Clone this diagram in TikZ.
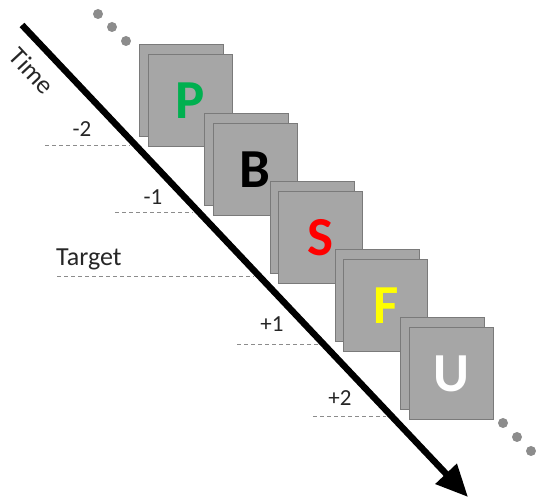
\documentclass[tikz,border=0pt]{standalone}
\usepackage{fontspec}
\setmainfont{Carlito}
\usetikzlibrary{arrows.meta}
\definecolor{cardfill}{HTML}{A6A6A6}
\definecolor{carddraw}{HTML}{7A7A7A}
\definecolor{dotgray}{HTML}{8C8C8C}
\definecolor{dashgray}{HTML}{8C8C8C}
\definecolor{txt}{HTML}{262626}
\definecolor{pgreen}{HTML}{00B050}
\definecolor{syellow}{HTML}{FFFF00}
\begin{document}
\begin{tikzpicture}[x=1pt,y=-1pt,
  card/.style={draw=carddraw,fill=cardfill,line width=1pt,minimum width=84pt,minimum height=92pt,inner sep=0pt,
    font=\fontsize{55}{55}\selectfont\bfseries},
  dotnode/.style={circle,fill=dotgray,minimum size=10pt,inner sep=0pt},
  lbl/.style={text=txt,font=\fontsize{23}{23}\selectfont,inner sep=0pt},
  tick/.style={dashgray,line width=0.9pt,dash pattern=on 4pt off 3pt},
  timearrow/.style={line width=6.5pt,-{Triangle[length=32pt,width=28pt]}}
]
\useasboundingbox (0,0) rectangle (536,502);
% dots
\node[dotnode] (d1) at (98,14) {};
\node[dotnode] (d2) at (112,27) {};
\node[dotnode] (d3) at (126,41) {};
\node[dotnode] (e1) at (503,423) {};
\node[dotnode] (e2) at (517,437) {};
\node[dotnode] (e3) at (531,451) {};
% cards
\node[card] (pb) at (181.5,91) {};
\node[card,text=pgreen] (pf) at (190,101) {P};
\node[card] (bb) at (246.75,159.25) {};
\node[card,text=black] (bf) at (255.25,169.25) {B};
\node[card] (sb) at (312,227.5) {};
\node[card,text=red] (sf) at (320.5,237.5) {S};
\node[card] (fb) at (377.25,295.75) {};
\node[card,text=syellow] (ff) at (385.75,305.75) {F};
\node[card] (ub) at (442.5,364) {};
\node[card,text=white] (uf) at (451,374) {U};
% time arrow
\coordinate (ts) at (22,25);
\coordinate (te) at (468,497);
\draw[timearrow] (ts) -- (te);
\node[lbl,font=\fontsize{26}{26}\selectfont,rotate=-47] (time) at (32,71) {Time};
% ticks
\coordinate (m2a) at (45,145);  \coordinate (m2b) at (130,145);
\coordinate (m1a) at (115,212); \coordinate (m1b) at (193,212);
\coordinate (t0a) at (57,276);  \coordinate (t0b) at (254,276);
\coordinate (p1a) at (237,344); \coordinate (p1b) at (318,344);
\coordinate (p2a) at (313,416); \coordinate (p2b) at (386,416);
\draw[tick] (m2a) -- (m2b);
\draw[tick] (m1a) -- (m1b);
\draw[tick] (t0a) -- (t0b);
\draw[tick] (p1a) -- (p1b);
\draw[tick] (p2a) -- (p2b);
\node[lbl] (lm2) at (82,129) {-2};
\node[lbl] (lm1) at (153,197) {-1};
\node[lbl,font=\fontsize{26}{26}\selectfont,anchor=base west] (lt0) at (56,266) {Target};
\node[lbl] (lp1) at (272,324) {+1};
\node[lbl] (lp2) at (340,398) {+2};
\end{tikzpicture}
\end{document}
